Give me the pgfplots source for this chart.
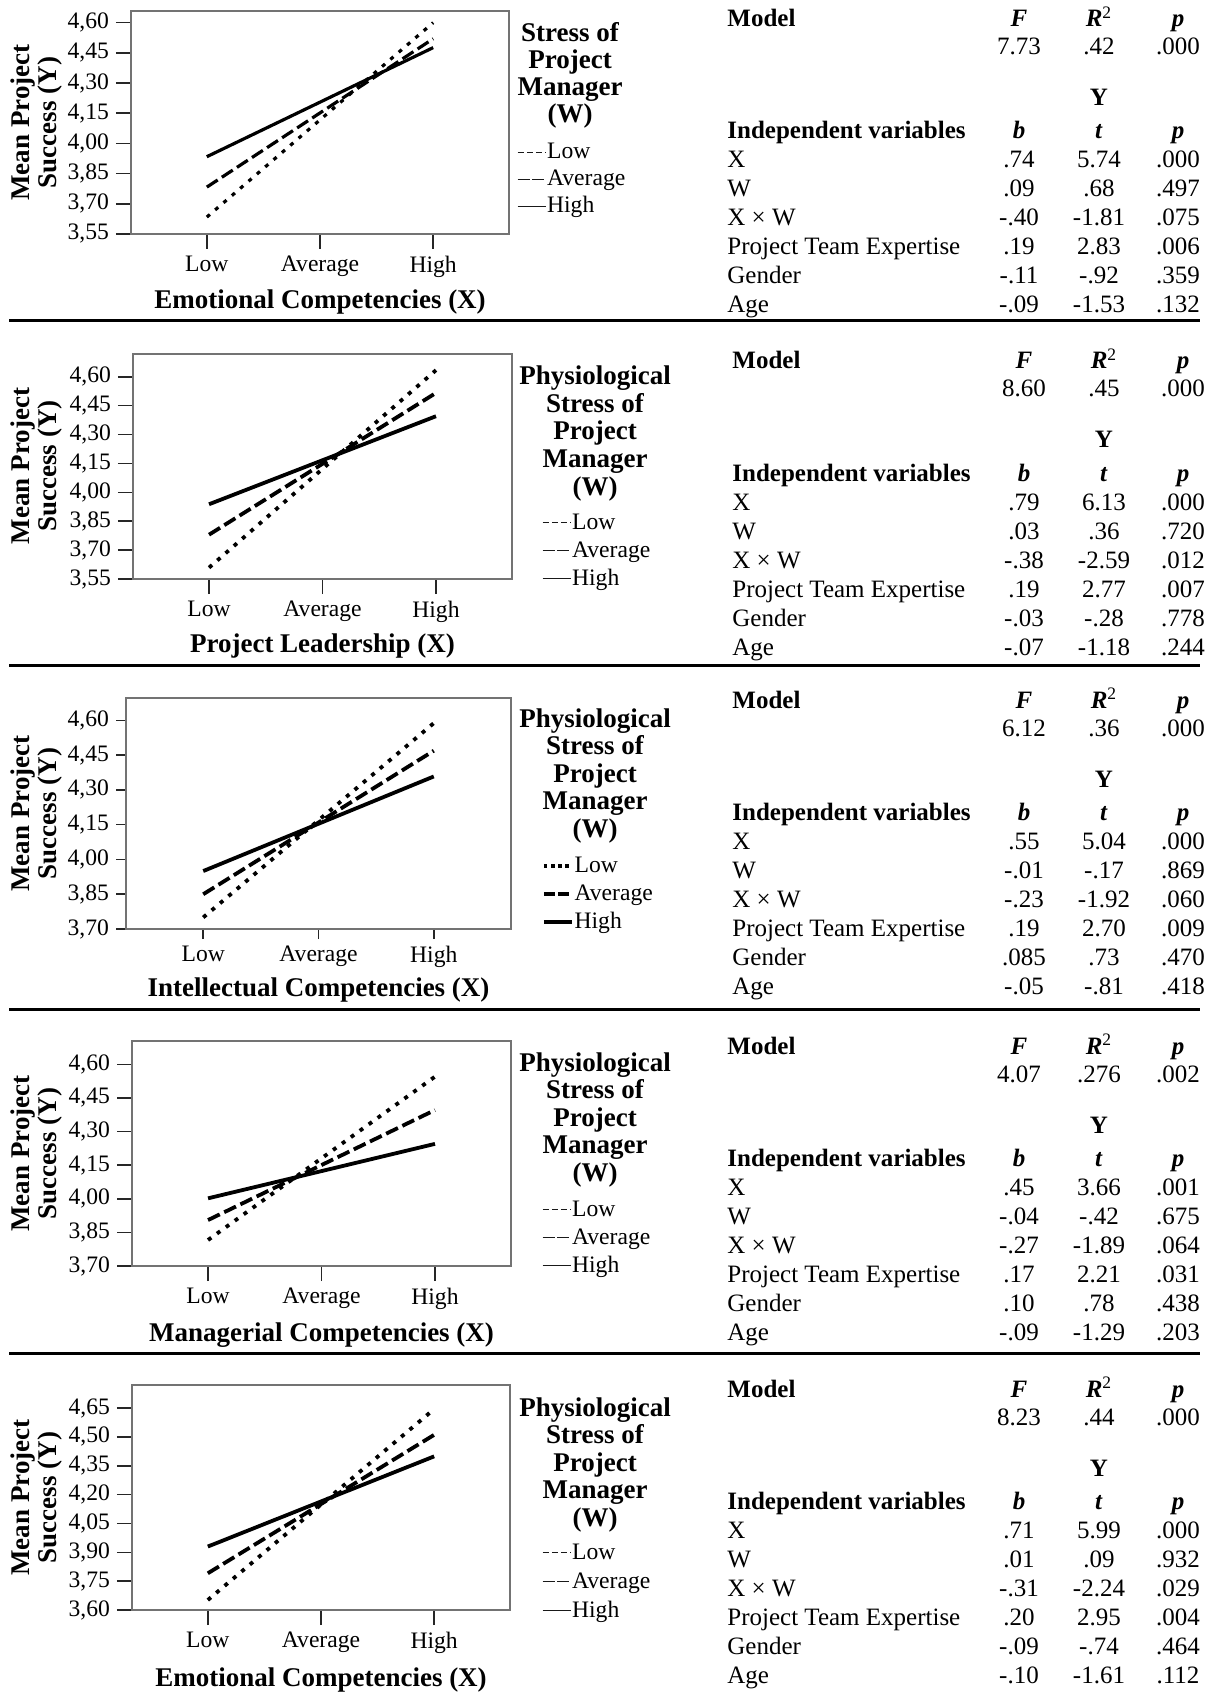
\documentclass[border=0pt]{standalone}
\usepackage{fontspec}
\setmainfont{Liberation Serif}
\usepackage{pgfplots}
\pgfplotsset{compat=1.18}

\pgfplotsset{
 panel/.style={
  scale only axis, anchor=south west,
  xmin=-0.67, xmax=2.67,
  xtick={0,1,2}, xticklabels={Low,Average,High},
  xtick pos=bottom, ytick pos=left, tick align=outside,
  major tick length=7.5pt,
  axis line style={draw=black!55, line width=0.8pt},
  tick style={draw=black!85, line width=0.8pt},
  ticklabel style={font=\fontsize{11.8}{12}\selectfont},
  /pgf/number format/fixed, /pgf/number format/fixed zerofill,
  /pgf/number format/precision=2, /pgf/number format/use comma,
  /pgf/number format/assume math mode=true,
  scaled y ticks=false,
  legend style={at={(axis description cs:1,0)}, anchor=south west, draw=none, fill=none,
    inner sep=0pt, outer sep=0pt, row sep=3.5pt, column sep=0.5pt,
    nodes={inner sep=0pt, text height=8pt, text depth=2.5pt, font=\fontsize{11.8}{12}\selectfont}},
  legend cell align=left,
  legend image code/.code={\draw[##1] (0pt,0.3pt) -- (14pt,0.3pt);},
 },
 lowp/.style={black, line width=1.9pt, dash pattern=on 2pt off 3.5pt},
 avgp/.style={black, line width=1.9pt, dash pattern=on 6.5pt off 2.5pt},
 highp/.style={black, line width=1.9pt},
 lowl/.style={black!90, line width=0.55pt, dash pattern=on 3pt off 1.6pt},
 avgl/.style={black!90, line width=0.55pt, dash pattern=on 6pt off 1.2pt},
 highl/.style={black!90, line width=0.55pt},
 lowk/.style={black, line width=1.8pt, dash pattern=on 1.8pt off 1.8pt},
 avgk/.style={black, line width=1.8pt, dash pattern=on 5.5pt off 1.5pt},
 highk/.style={black, line width=1.8pt},
}

\tikzset{
 lab/.style={font=\bfseries\fontsize{13.5}{13.5}\selectfont, inner sep=0pt},
 tb/.style={font=\fontsize{12.5}{14}\selectfont, inner sep=0pt, anchor=base},
}
\def\tx{727}\def\ty{0}
\newcommand\tabrow[5]{%
  \node[tb, anchor=base west] at ({\tx}, {\ty+#1}) {#2};
  \node[tb] at ({\tx+292},{\ty+#1}) {#3};
  \node[tb] at ({\tx+372},{\ty+#1}) {#4};
  \node[tb] at ({\tx+451},{\ty+#1}) {#5};}
\newcommand\ttl[4]{%
  \foreach \s [count=\i from 0] in {#4} {\node[lab,anchor=base] at (#1, {#2+#3*\i}) {\s};}}
\newcommand\ylab[1]{%
  \node[lab, rotate=90, anchor=base] at (29,#1) {Mean Project};
  \node[lab, rotate=90, anchor=base] at (56,#1) {Success (Y)};}

\begin{document}
\begin{tikzpicture}
\useasboundingbox (0,0) rectangle (609pt,-847.5pt);

% Panel 1
\begin{axis}[panel, at={(65.5pt,-117pt)}, width=189pt, height=111.5pt,
  ymin=3.55, ymax=4.658, ytick={3.55,3.70,3.85,4.00,4.15,4.30,4.45,4.60},
  legend style={xshift=4pt, yshift=8pt, row sep=3pt}]
\addplot[lowp, line width=1.6pt, forget plot] coordinates {(0,3.634) (2,4.600)};
\addplot[avgp, line width=1.6pt, forget plot] coordinates {(0,3.783) (2,4.520)};
\addplot[highp, line width=1.6pt, forget plot] coordinates {(0,3.934) (2,4.476)};
\addlegendimage{lowl}\addlegendentry{Low}
\addlegendimage{avgl}\addlegendentry{Average}
\addlegendimage{highl}\addlegendentry{High}
\end{axis}

% Panel 2
\begin{axis}[panel, at={(66.5pt,-289.5pt)}, width=189.5pt, height=112.5pt,
  ymin=3.55, ymax=4.718, ytick={3.55,3.70,3.85,4.00,4.15,4.30,4.45,4.60},
  legend style={xshift=15pt, yshift=-5.5pt}]
\addplot[lowp, forget plot] coordinates {(0,3.609) (2,4.634)};
\addplot[avgp, forget plot] coordinates {(0,3.780) (2,4.516)};
\addplot[highp, forget plot] coordinates {(0,3.938) (2,4.395)};
\addlegendimage{lowl}\addlegendentry{Low}
\addlegendimage{avgl}\addlegendentry{Average}
\addlegendimage{highl}\addlegendentry{High}
\end{axis}

% Panel 3
\begin{axis}[panel, at={(63pt,-464.5pt)}, width=192.5pt, height=115.5pt,
  major tick length=5pt,
  ymin=3.70, ymax=4.6965, ytick={3.70,3.85,4.00,4.15,4.30,4.45,4.60},
  legend style={xshift=15.5pt, yshift=-2pt}]
\addplot[lowp, forget plot] coordinates {(0,3.750) (2,4.588)};
\addplot[avgp, forget plot] coordinates {(0,3.850) (2,4.469)};
\addplot[highp, forget plot] coordinates {(0,3.950) (2,4.358)};
\addlegendimage{lowk}\addlegendentry{Low}
\addlegendimage{avgk}\addlegendentry{Average}
\addlegendimage{highk}\addlegendentry{High}
\end{axis}

% Panel 4
\begin{axis}[panel, at={(66pt,-633pt)}, width=189.5pt, height=112.5pt,
  ymin=3.70, ymax=4.704, ytick={3.70,3.85,4.00,4.15,4.30,4.45,4.60},
  legend style={xshift=15.5pt, yshift=-5.5pt}]
\addplot[lowp, forget plot] coordinates {(0,3.816) (2,4.545)};
\addplot[avgp, forget plot] coordinates {(0,3.905) (2,4.396)};
\addplot[highp, forget plot] coordinates {(0,4.002) (2,4.245)};
\addlegendimage{lowl}\addlegendentry{Low}
\addlegendimage{avgl}\addlegendentry{Average}
\addlegendimage{highl}\addlegendentry{High}
\end{axis}

% Panel 5
\begin{axis}[panel, at={(66pt,-805pt)}, width=189pt, height=112.5pt,
  ymin=3.60, ymax=4.77, ytick={3.60,3.75,3.90,4.05,4.20,4.35,4.50,4.65},
  legend style={xshift=16pt, yshift=-6pt, row sep=4pt}]
\addplot[lowp, forget plot] coordinates {(0,3.652) (2,4.645)};
\addplot[avgp, forget plot] coordinates {(0,3.791) (2,4.511)};
\addplot[highp, forget plot] coordinates {(0,3.930) (2,4.399)};
\addlegendimage{lowl}\addlegendentry{Low}
\addlegendimage{avgl}\addlegendentry{Average}
\addlegendimage{highl}\addlegendentry{High}
\end{axis}

\begin{scope}[x=0.5pt, y=-0.5pt]
% axis titles
\node[lab, anchor=base] at (320,309) {Emotional Competencies (X)};
\node[lab, anchor=base] at (322.5,652) {Project Leadership (X)};
\node[lab, anchor=base] at (318.5,996) {Intellectual Competencies (X)};
\node[lab, anchor=base] at (321.5,1341) {Managerial Competencies (X)};
\node[lab, anchor=base] at (321,1686) {Emotional Competencies (X)};
\ylab{122.5}\ylab{466}\ylab{813.5}\ylab{1153.5}\ylab{1497.5}
% legend titles
\ttl{570}{42}{27}{Stress of,Project,Manager,(W)}
\ttl{595}{385}{27.5}{Physiological,Stress of,Project,Manager,(W)}
\ttl{595}{727}{27.5}{Physiological,Stress of,Project,Manager,(W)}
\ttl{595}{1071}{27.5}{Physiological,Stress of,Project,Manager,(W)}
\ttl{595}{1416}{27.5}{Physiological,Stress of,Project,Manager,(W)}
% rules
\draw[line width=1.5pt] (9,321) -- (1200,321);
\draw[line width=1.5pt] (9,665) -- (1200,665);
\draw[line width=1.5pt] (9,1009) -- (1200,1009);
\draw[line width=1.5pt] (9,1353) -- (1200,1353);

% Table 1
\def\tx{727}\def\ty{0}
\tabrow{27}{\textbf{Model}}{\textbf{\textit{F}}}{\textbf{\textit{R}}\textsuperscript{2}}{\textbf{\textit{p}}}
\tabrow{55}{}{7.73}{.42}{.000}
\tabrow{106}{}{}{\textbf{Y}}{}
\tabrow{139}{\textbf{Independent variables}}{\textbf{\textit{b}}}{\textbf{\textit{t}}}{\textbf{\textit{p}}}
\tabrow{168}{X}{.74}{5.74}{.000}
\tabrow{197}{W}{.09}{.68}{.497}
\tabrow{226}{X × W}{-.40}{-1.81}{.075}
\tabrow{255}{Project Team Expertise}{.19}{2.83}{.006}
\tabrow{284}{Gender}{-.11}{-.92}{.359}
\tabrow{313}{Age}{-.09}{-1.53}{.132}

% Table 2
\def\tx{732}\def\ty{342}
\tabrow{27}{\textbf{Model}}{\textbf{\textit{F}}}{\textbf{\textit{R}}\textsuperscript{2}}{\textbf{\textit{p}}}
\tabrow{55}{}{8.60}{.45}{.000}
\tabrow{106}{}{}{\textbf{Y}}{}
\tabrow{139}{\textbf{Independent variables}}{\textbf{\textit{b}}}{\textbf{\textit{t}}}{\textbf{\textit{p}}}
\tabrow{168}{X}{.79}{6.13}{.000}
\tabrow{197}{W}{.03}{.36}{.720}
\tabrow{226}{X × W}{-.38}{-2.59}{.012}
\tabrow{255}{Project Team Expertise}{.19}{2.77}{.007}
\tabrow{284}{Gender}{-.03}{-.28}{.778}
\tabrow{313}{Age}{-.07}{-1.18}{.244}

% Table 3
\def\tx{732}\def\ty{681}
\tabrow{27}{\textbf{Model}}{\textbf{\textit{F}}}{\textbf{\textit{R}}\textsuperscript{2}}{\textbf{\textit{p}}}
\tabrow{55}{}{6.12}{.36}{.000}
\tabrow{106}{}{}{\textbf{Y}}{}
\tabrow{139}{\textbf{Independent variables}}{\textbf{\textit{b}}}{\textbf{\textit{t}}}{\textbf{\textit{p}}}
\tabrow{168}{X}{.55}{5.04}{.000}
\tabrow{197}{W}{-.01}{-.17}{.869}
\tabrow{226}{X × W}{-.23}{-1.92}{.060}
\tabrow{255}{Project Team Expertise}{.19}{2.70}{.009}
\tabrow{284}{Gender}{.085}{.73}{.470}
\tabrow{313}{Age}{-.05}{-.81}{.418}

% Table 4
\def\tx{727}\def\ty{1027}
\tabrow{27}{\textbf{Model}}{\textbf{\textit{F}}}{\textbf{\textit{R}}\textsuperscript{2}}{\textbf{\textit{p}}}
\tabrow{55}{}{4.07}{.276}{.002}
\tabrow{106}{}{}{\textbf{Y}}{}
\tabrow{139}{\textbf{Independent variables}}{\textbf{\textit{b}}}{\textbf{\textit{t}}}{\textbf{\textit{p}}}
\tabrow{168}{X}{.45}{3.66}{.001}
\tabrow{197}{W}{-.04}{-.42}{.675}
\tabrow{226}{X × W}{-.27}{-1.89}{.064}
\tabrow{255}{Project Team Expertise}{.17}{2.21}{.031}
\tabrow{284}{Gender}{.10}{.78}{.438}
\tabrow{313}{Age}{-.09}{-1.29}{.203}

% Table 5
\def\tx{727}\def\ty{1370}
\tabrow{27}{\textbf{Model}}{\textbf{\textit{F}}}{\textbf{\textit{R}}\textsuperscript{2}}{\textbf{\textit{p}}}
\tabrow{55}{}{8.23}{.44}{.000}
\tabrow{106}{}{}{\textbf{Y}}{}
\tabrow{139}{\textbf{Independent variables}}{\textbf{\textit{b}}}{\textbf{\textit{t}}}{\textbf{\textit{p}}}
\tabrow{168}{X}{.71}{5.99}{.000}
\tabrow{197}{W}{.01}{.09}{.932}
\tabrow{226}{X × W}{-.31}{-2.24}{.029}
\tabrow{255}{Project Team Expertise}{.20}{2.95}{.004}
\tabrow{284}{Gender}{-.09}{-.74}{.464}
\tabrow{313}{Age}{-.10}{-1.61}{.112}
\end{scope}
\end{tikzpicture}
\end{document}
